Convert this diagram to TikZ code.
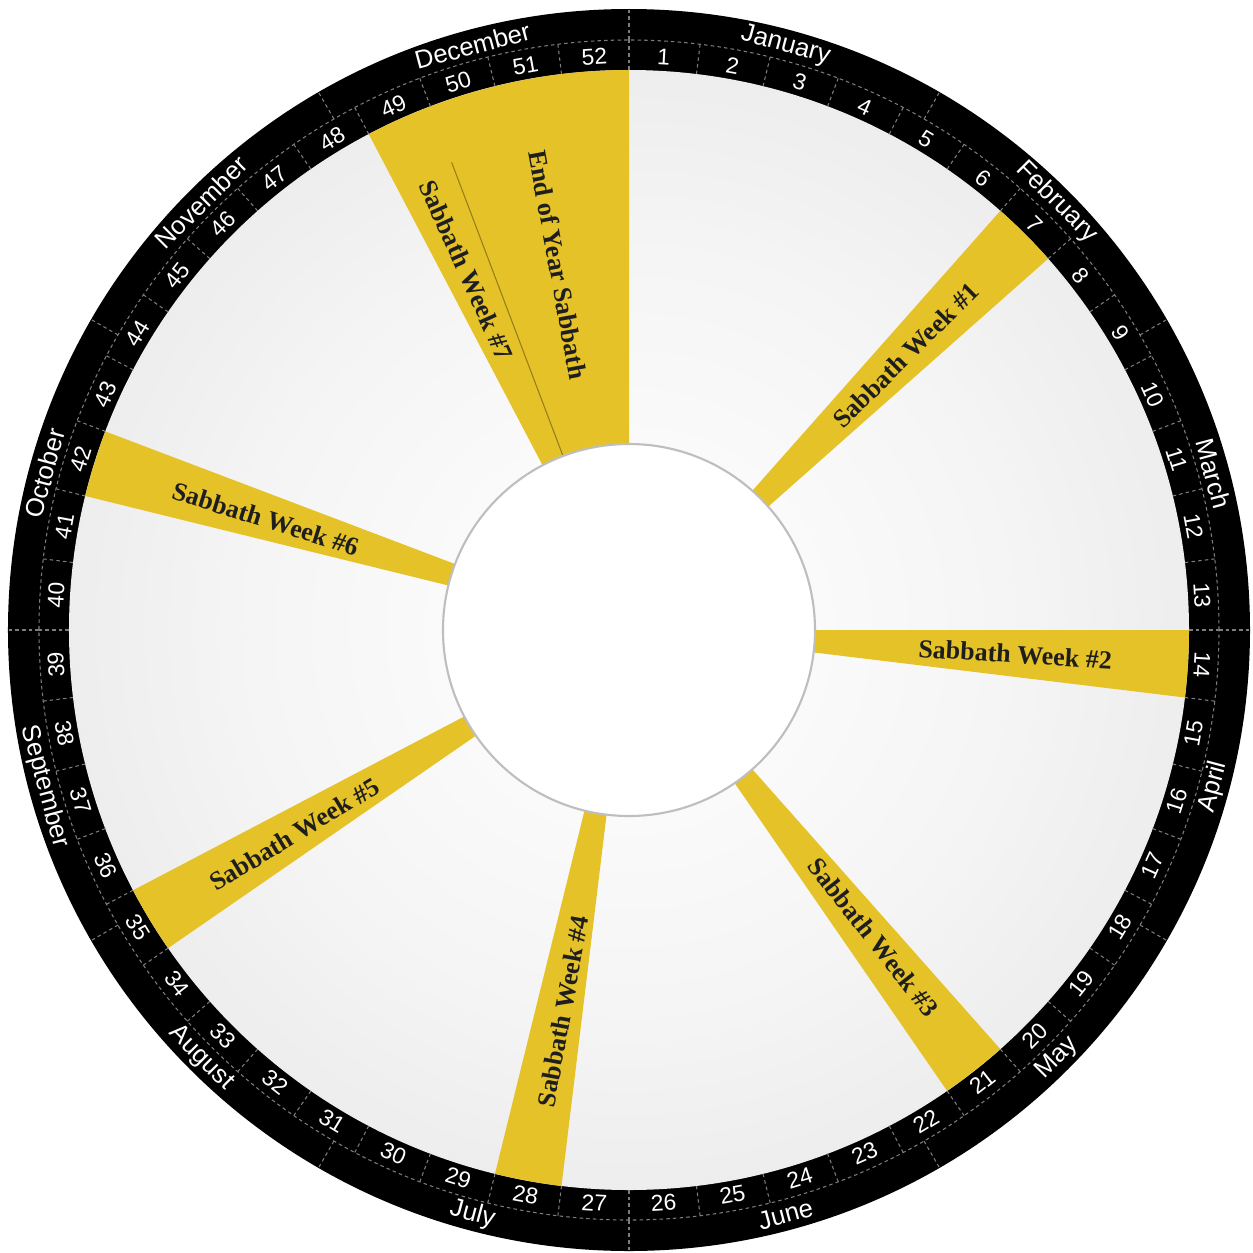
\documentclass[tikz,border=0pt]{standalone}
\usepackage{fontspec}
\setmainfont{Liberation Serif}
\setsansfont{Liberation Sans}
\usepackage{tikz}
\usetikzlibrary{calc}
\definecolor{sabyellow}{RGB}{229,194,40}
\definecolor{seamolive}{RGB}{150,125,25}
\definecolor{ringtick}{RGB}{125,125,125}
\definecolor{hubedge}{RGB}{190,190,190}
\definecolor{labeltext}{RGB}{30,30,30}
\pgfdeclareradialshading{diskshade}{\pgfpoint{0bp}{0bp}}{color(0bp)=(white); color(17bp)=(white!96!black); color(50bp)=(white!84!black)}
\newcommand{\wkdeg}{6.9230769}
\tikzset{
  wedge/.style={fill=sabyellow},
  weeknum/.style={text=white, inner sep=0pt, font=\sffamily\fontsize{6.5}{7}\selectfont},
  month/.style={text=white, inner sep=0pt, font=\sffamily\fontsize{7.3}{8}\selectfont},
  sablabel/.style={text=labeltext, inner sep=0pt, font=\bfseries\fontsize{7.4}{8}\selectfont},
  weektick/.style={draw=ringtick, line width=0.3pt, dash pattern=on 1pt off 0.9pt},
  hub/.style={circle, fill=white, draw=hubedge, line width=0.6pt, minimum size=3.72cm, inner sep=0pt}
}

\begin{document}
\begin{tikzpicture}[x=1cm,y=1cm]
    \useasboundingbox (-6.29,-6.22) rectangle (6.24,6.30);

    % black ring and grey disk
    \fill[black] (0,0) circle (6.21);
    \shade[shading=diskshade] (0,0) circle (5.6);

    % sabbath weeks
    \foreach \k in {7,14,21,28,35,42}
      \fill[wedge] (0,0) -- ({90-(\k-1)*\wkdeg}:5.6)
        arc ({90-(\k-1)*\wkdeg}:{90-\k*\wkdeg}:5.6) -- cycle;
    \fill[wedge] (0,0) -- (117.69:5.6) arc (117.69:90:5.6) -- cycle;
    \draw[seamolive, line width=0.3pt] (110.77:1.86) -- (110.77:5.0);

    \node[hub] (hub) at (0,0) {};

    % week numbers and ticks
    \draw[weektick] (0,0) circle (5.9);
    \foreach \n in {1,...,52}{
      \pgfmathsetmacro\ang{90-(\n-0.5)*\wkdeg}
      \pgfmathsetmacro\rot{sin(\ang)<-0.1 ? \ang+90 : \ang-90}
      \node[weeknum, rotate=\rot] (w\n) at (\ang:5.74) {\n};
      \draw[weektick] ({90-\n*\wkdeg}:5.6) -- ({90-\n*\wkdeg}:5.9);
    }
    \foreach \m in {0,...,11}
      \draw[weektick] ({\m*30}:5.9) -- ({\m*30}:6.21);

    % months
    \node[month, rotate=-15] (jan) at (75:6.05) {January};
    \node[month, rotate=-45] (feb) at (45:6.05) {February};
    \node[month, rotate=-75] (mar) at (15:6.05) {March};
    \node[month, rotate=75] (apr) at (-15:6.05) {April};
    \node[month, rotate=45] (may) at (-45:6.05) {May};
    \node[month, rotate=15] (jun) at (-75:6.05) {June};
    \node[month, rotate=-15] (jul) at (-105:6.05) {July};
    \node[month, rotate=-45] (aug) at (-135:6.05) {August};
    \node[month, rotate=-75] (sep) at (-165:6.05) {September};
    \node[month, rotate=75] (oct) at (165:6.05) {October};
    \node[month, rotate=45] (nov) at (135:6.05) {November};
    \node[month, rotate=15] (dec) at (105:6.05) {December};

    % wedge labels
    \node[sablabel, rotate=45] (sab1) at (44.8:3.90) {Sabbath Week \#1};
    \node[sablabel, rotate=-3.46] (sab2) at (-3.6:3.87) {Sabbath Week \#2};
    \node[sablabel, rotate=-51.9] (sab3) at (-51.5:3.93) {Sabbath Week \#3};
    \node[sablabel, rotate=79.6] (sab4) at (-99.8:3.87) {Sabbath Week \#4};
    \node[sablabel, rotate=31.2] (sab5) at (-148.6:3.92) {Sabbath Week \#5};
    \node[sablabel, rotate=-17.3] (sab6) at (163:3.80) {Sabbath Week \#6};
    \node[sablabel, rotate=-65.8] (sab7) at (114.3:3.95) {Sabbath Week \#7};
    \node[sablabel, rotate=-79.6] (eoy) at (101:3.72) {End of Year Sabbath};
\end{tikzpicture}
\end{document}
